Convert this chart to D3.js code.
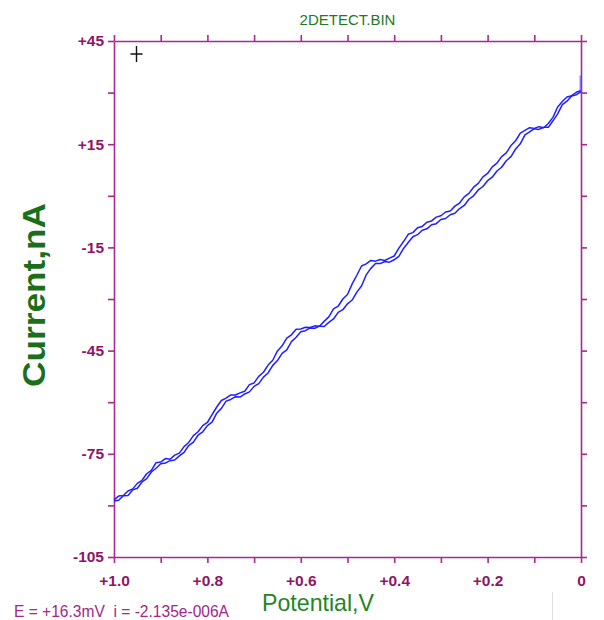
<!DOCTYPE html>
<html><head><meta charset="utf-8">
<script src="https://cdn.jsdelivr.net/npm/d3@7"></script>
<style>html,body{margin:0;padding:0;background:#fff;} svg{display:block}</style>
</head><body>
<svg id="chart" width="604" height="620"></svg>
<script>
// ---- data ----
const potential = [1.00,0.99,0.98,0.97,0.96,0.95,0.94,0.93,0.92,0.91,
  0.90,0.89,0.88,0.87,0.86,0.85,0.84,0.83,0.82,0.81,
  0.80,0.79,0.78,0.77,0.76,0.75,0.74,0.73,0.72,0.71,
  0.70,0.69,0.68,0.67,0.66,0.65,0.64,0.63,0.62,0.61,
  0.60,0.59,0.58,0.57,0.56,0.55,0.54,0.53,0.52,0.51,
  0.50,0.49,0.48,0.47,0.46,0.45,0.44,0.43,0.42,0.41,
  0.40,0.39,0.38,0.37,0.36,0.35,0.34,0.33,0.32,0.31,
  0.30,0.29,0.28,0.27,0.26,0.25,0.24,0.23,0.22,0.21,
  0.20,0.19,0.18,0.17,0.16,0.15,0.14,0.13,0.12,0.11,
  0.10,0.09,0.08,0.07,0.06,0.05,0.04,0.03,0.02,0.01,0.00];
const currentForward = [-88.4,-87.3,-87.1,-85.8,-85.2,-83.6,-82.7,-80.8,-79.8,-77.6,
  -77.4,-76.4,-76.6,-75.4,-74.8,-72.9,-71.7,-69.7,-68.6,-66.8,
  -65.9,-63.6,-61.4,-59.5,-58.8,-57.9,-57.9,-57.3,-56.8,-54.9,
  -54.4,-52.5,-51.3,-49.2,-47.8,-45.1,-43.6,-41.4,-40.4,-38.8,
  -38.7,-38.2,-38.3,-37.8,-37.9,-36.5,-35.2,-32.9,-32.1,-30.0,
  -28.7,-25.6,-23.1,-20.4,-19.8,-18.8,-19.0,-18.5,-18.8,-18.1,
  -17.5,-15.2,-13.3,-11.2,-10.7,-9.3,-8.9,-7.7,-7.3,-6.2,
  -5.8,-4.7,-4.4,-3.0,-2.1,-0.3,0.7,2.5,3.6,5.5,
  6.5,8.4,9.5,11.4,12.5,14.6,16.0,18.2,19.0,19.8,
  19.6,20.1,19.8,21.0,22.8,25.8,27.4,28.7,29.1,30.1,30.6];
const currentReverse = [-88.7,-88.5,-87.2,-87.1,-85.5,-85.0,-83.2,-82.2,-80.3,-79.2,
  -77.9,-77.7,-77.0,-76.8,-75.6,-74.6,-72.6,-71.6,-69.6,-68.6,
  -66.8,-65.8,-63.2,-61.8,-59.7,-59.2,-58.4,-58.5,-57.6,-57.0,
  -55.4,-54.6,-52.7,-51.5,-49.3,-47.9,-45.8,-44.8,-42.4,-41.1,
  -39.5,-39.2,-38.4,-38.5,-37.9,-38.0,-36.8,-35.8,-33.9,-33.1,
  -31.4,-30.3,-28.0,-26.2,-23.0,-21.1,-19.7,-19.7,-19.1,-19.3,
  -18.6,-17.6,-15.3,-13.6,-11.9,-11.3,-10.0,-9.6,-8.4,-8.1,
  -6.9,-6.6,-5.5,-5.1,-3.7,-2.8,-1.0,0.0,1.7,2.7,
  4.4,5.4,7.2,8.3,10.2,11.4,13.6,15.1,17.7,18.6,
  19.5,19.3,19.9,19.9,21.8,23.8,26.5,27.5,29.0,29.4,30.2];
const spikePotential = [0.00, 0.00];
const spikeCurrent = [30.6, 35.0];

const xTickValues = [1.0,0.9,0.8,0.7,0.6,0.5,0.4,0.3,0.2,0.1,0.0];
const xTickLabels = ["+1.0","","+0.8","","+0.6","","+0.4","","+0.2","","0"];
const yTickValues = [-105,-90,-75,-60,-45,-30,-15,0,15,30,45];
const yTickLabels = ["-105","","-75","","-45","","-15","","+15","","+45"];

const titleText = "2DETECT.BIN";
const xLabelText = "Potential,V";
const yLabelText = "Current,nA";
const statusText = "E = +16.3mV  i = -2.135e-006A";

// ---- layout ----
const L = 114, R = 581, T = 41, B = 557;
const axisColor = "#a8288f", tickTextColor = "#8f1468", green = "#1d7a1d";
const svg = d3.select("#chart");

const x = d3.scaleLinear().domain([1.0, 0.0]).range([L, R]);
const y = d3.scaleLinear().domain([-105, 45]).range([B, T]);

function styleAxis(g) {
  g.selectAll("path.domain").attr("stroke", axisColor).attr("stroke-width", 1.6);
  g.selectAll(".tick line").attr("stroke", axisColor).attr("stroke-width", 1.6);
  g.selectAll(".tick text").attr("fill", tickTextColor)
    .style("font-family", "'Liberation Sans', Arial, sans-serif")
    .style("font-size", "15.5px").style("font-weight", "bold");
}

const yLeft = d3.axisLeft(y).tickValues(yTickValues)
  .tickFormat((d, i) => yTickLabels[i]).tickSize(6).tickSizeOuter(0).tickPadding(4);
svg.append("g").attr("transform", `translate(${L},0)`).call(yLeft).call(styleAxis);

const yRight = d3.axisRight(y).tickValues(yTickValues).tickFormat("").tickSize(6).tickSizeOuter(0);
svg.append("g").attr("transform", `translate(${R},0)`).call(yRight).call(styleAxis);

const xTop = d3.axisTop(x).tickValues(xTickValues).tickFormat("").tickSize(6).tickSizeOuter(0);
svg.append("g").attr("transform", `translate(0,${T})`).call(xTop).call(styleAxis);

const xBottom = d3.axisBottom(x).tickValues(xTickValues)
  .tickFormat((d, i) => xTickLabels[i]).tickSize(6).tickSizeOuter(0).tickPadding(12);
svg.append("g").attr("transform", `translate(0,${B})`).call(xBottom).call(styleAxis);

// ---- curves ----
const line = d3.line().x(d => x(d[0])).y(d => y(d[1]));
const fwd = potential.map((v, i) => [v, currentForward[i]]);
const rev = potential.map((v, i) => [v, currentReverse[i]]).reverse();
const curveColor = "#1f1fff";
svg.append("path").attr("d", line(fwd)).attr("fill", "none")
  .attr("stroke", curveColor).attr("stroke-width", 1.5).attr("stroke-linejoin", "round");
svg.append("path").attr("d", line(rev)).attr("fill", "none")
  .attr("stroke", curveColor).attr("stroke-width", 1.5).attr("stroke-linejoin", "round");
svg.append("path").attr("d", line(spikePotential.map((v, i) => [v, spikeCurrent[i]])))
  .attr("fill", "none").attr("stroke", "#6a6aff").attr("stroke-width", 1.2)
  .attr("transform", "translate(-0.8,0)");

// ---- cursor ----
const cx = 136.5, cy = 54;
svg.append("path").attr("d", `M${cx},${cy - 8}V${cy + 8}M${cx - 6},${cy}H${cx + 6}`)
  .attr("stroke", "#111").attr("stroke-width", 1.4);

// ---- texts ----
svg.append("text").attr("x", (L + R) / 2).attr("y", 25).attr("text-anchor", "middle")
  .attr("fill", green).style("font-family", "'Liberation Sans', Arial, sans-serif")
  .style("font-size", "15px").text(titleText);

svg.append("text").attr("transform", "translate(45,295) rotate(-90)")
  .attr("text-anchor", "middle").attr("fill", "#1b6f1b")
  .style("font-family", "'Liberation Sans', Arial, sans-serif")
  .style("font-size", "32px").style("font-weight", "bold")
  .attr("textLength", 184).attr("lengthAdjust", "spacingAndGlyphs").text(yLabelText);

svg.append("text").attr("x", 318).attr("y", 611).attr("text-anchor", "middle")
  .attr("fill", "#238523").style("font-family", "'Liberation Sans', Arial, sans-serif")
  .style("font-size", "24px")
  .attr("textLength", 112).attr("lengthAdjust", "spacingAndGlyphs").text(xLabelText);

svg.append("text").attr("x", 14).attr("y", 617)
  .attr("fill", "#a3268a").style("font-family", "'Liberation Sans', Arial, sans-serif")
  .style("font-size", "16.5px").style("white-space", "pre")
  .attr("textLength", 215).attr("lengthAdjust", "spacingAndGlyphs").text(statusText);

svg.append("line").attr("x1", 552.5).attr("x2", 552.5).attr("y1", 592).attr("y2", 620)
  .attr("stroke", "#e2e2e2").attr("stroke-width", 1);
</script>
</body></html>
